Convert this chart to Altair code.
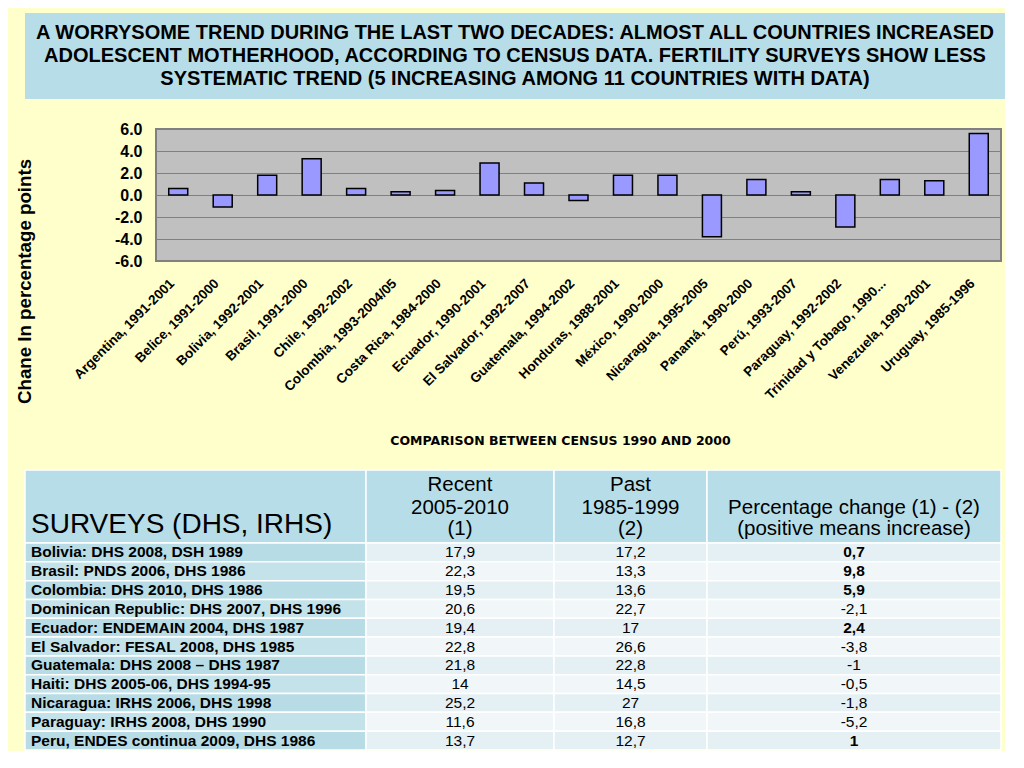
import altair as alt
import pandas as pd

# ---------------- data ----------------
TITLE_LINES = [
    "A WORRYSOME TREND DURING THE LAST TWO DECADES: ALMOST ALL COUNTRIES INCREASED",
    "ADOLESCENT MOTHERHOOD, ACCORDING TO CENSUS DATA. FERTILITY SURVEYS SHOW LESS",
    "SYSTEMATIC TREND (5 INCREASING AMONG 11 COUNTRIES WITH DATA)",
]

CENSUS_COUNTRIES = [
    "Argentina, 1991-2001", "Belice, 1991-2000", "Bolivia, 1992-2001",
    "Brasil, 1991-2000", "Chile, 1992-2002", "Colombia, 1993-2004/05",
    "Costa Rica, 1984-2000", "Ecuador, 1990-2001", "El Salvador, 1992-2007",
    "Guatemala, 1994-2002", "Honduras, 1988-2001", "México, 1990-2000",
    "Nicaragua, 1995-2005", "Panamá, 1990-2000", "Perú, 1993-2007",
    "Paraguay, 1992-2002", "Trinidad y Tobago, 1990...", "Venezuela, 1990-2001",
    "Uruguay, 1985-1996",
]
CENSUS_CHANGE = [0.6, -1.1, 1.8, 3.3, 0.6, 0.3, 0.4, 2.9, 1.1, -0.5,
                 1.8, 1.8, -3.8, 1.4, 0.3, -2.9, 1.4, 1.3, 5.6]
Y_TICKS = [-6, -4, -2, 0, 2, 4, 6]
Y_TITLE = "Chane In percentage points"
X_TITLE = "COMPARISON BETWEEN CENSUS 1990 AND 2000"

TABLE_TITLE = "SURVEYS (DHS, IRHS)"
COL_HEADERS = [
    ["Recent", "2005-2010", "(1)"],
    ["Past", "1985-1999", "(2)"],
    ["", "Percentage change (1) - (2)", "(positive means increase)"],
]
SURVEYS = [
    "Bolivia: DHS 2008, DSH 1989",
    "Brasil: PNDS 2006, DHS 1986",
    "Colombia: DHS 2010, DHS 1986",
    "Dominican Republic: DHS 2007, DHS 1996",
    "Ecuador: ENDEMAIN 2004, DHS 1987",
    "El Salvador: FESAL 2008, DHS 1985",
    "Guatemala: DHS 2008 \u2013 DHS 1987",
    "Haiti: DHS 2005-06, DHS 1994-95",
    "Nicaragua: IRHS 2006, DHS 1998",
    "Paraguay: IRHS 2008, DHS 1990",
    "Peru, ENDES continua 2009, DHS 1986",
]
RECENT = [17.9, 22.3, 19.5, 20.6, 19.4, 22.8, 21.8, 14, 25.2, 11.6, 13.7]
PAST = [17.2, 13.3, 13.6, 22.7, 17, 26.6, 22.8, 14.5, 27, 16.8, 12.7]
PCT_CHANGE = [0.7, 9.8, 5.9, -2.1, 2.4, -3.8, -1, -0.5, -1.8, -5.2, 1]

# ---------------- layout / style ----------------
BG = "#FFFFCC"
BOX = "#B7DEE8"
FONT = "Liberation Sans"
PLOT_W, PLOT_H = 845, 132
BOX_LEFT, BOX_RIGHT = -131, 849      # title box relative to the plot's left edge
TITLE_H = 86
TABLE_H = 280
TABLE_OFFSET = 131                   # table starts this far left of the plot
COL_EDGES = [0, 341, 529, 682, 976]
HEAD_H = 73
HEAD_LINE_Y = [15, 38, 59]
ROW_H = (TABLE_H - HEAD_H) / len(SURVEYS)


def fmt(v):
    return f"{v:g}".replace(".", ",")


# ---------------- title box ----------------
title_df = pd.DataFrame({"i": list(range(len(TITLE_LINES))), "line": TITLE_LINES})
title_box = alt.Chart(pd.DataFrame({"k": [0]})).mark_rect(color=BOX).encode(
    x=alt.value(BOX_LEFT), x2=alt.value(BOX_RIGHT), y=alt.value(0), y2=alt.value(TITLE_H)
)
title_text = alt.Chart(title_df).mark_text(
    font=FONT, fontSize=20, fontWeight="bold", color="black", align="center", baseline="middle"
).encode(
    x=alt.value((BOX_LEFT + BOX_RIGHT) / 2),
    y=alt.Y("i:O", axis=None, scale=alt.Scale(padding=0.85)),
    text="line:N",
)
title_chart = alt.layer(title_box, title_text).properties(width=PLOT_W, height=TITLE_H)

# ---------------- bar chart ----------------
bar_df = pd.DataFrame({"country": CENSUS_COUNTRIES, "change": CENSUS_CHANGE})
bar_chart = alt.Chart(bar_df).mark_bar(
    size=19, fill="#9999FF", stroke="#000000", strokeWidth=1.5
).encode(
    x=alt.X(
        "country:N", sort=None,
        scale=alt.Scale(paddingInner=0, paddingOuter=0),
        axis=alt.Axis(
            title=X_TITLE, labelAngle=315, labelAlign="right", labelBaseline="middle",
            labelFont=FONT, labelFontSize=13.5, labelFontWeight="bold", labelColor="black",
            labelPadding=20, labelOffset=-6, labelOverlap=False, labelLimit=300,
            ticks=False, domain=False,
            titleFont="DejaVu Sans", titleFontSize=12.5, titleFontWeight="bold", titleColor="black",
            titleX=404, titleY=179, titleAlign="center", titleBaseline="middle",
        ),
    ),
    y=alt.Y(
        "change:Q",
        scale=alt.Scale(domain=[-6, 6], nice=False),
        axis=alt.Axis(
            values=Y_TICKS,
            labelExpr="datum.value < 0 ? '-' + format(-datum.value, '.1f') : format(datum.value, '.1f')",
            labelFont=FONT, labelFontSize=16, labelFontWeight="bold", labelColor="black",
            labelPadding=14, ticks=False, domain=False,
            grid=True, gridColor="#808080", gridWidth=1, gridOpacity=1,
            title=Y_TITLE, titleFont=FONT, titleFontSize=18.7, titleFontWeight="bold",
            titleColor="black", titleAngle=270, titleX=-132, titleY=152,
            titleAlign="center", titleBaseline="middle",
        ),
    ),
).properties(
    width=PLOT_W, height=PLOT_H,
    view=alt.ViewBackground(fill="#C0C0C0", stroke="#808080", strokeWidth=2),
)

# ---------------- table ----------------
cells, texts = [], []
for c in range(4):
    cells.append(dict(x=COL_EDGES[c], x2=COL_EDGES[c + 1], y=0, y2=HEAD_H, fill=BOX))
texts.append(dict(kind="big", x=COL_EDGES[0] + 6, y=55, text=TABLE_TITLE))
for c, lines in enumerate(COL_HEADERS):
    cx = (COL_EDGES[c + 1] + COL_EDGES[c + 2]) / 2
    for j, t in enumerate(lines):
        if t:
            texts.append(dict(kind="head", x=cx, y=HEAD_LINE_Y[j], text=t))
for r, name in enumerate(SURVEYS):
    y0 = HEAD_H + r * ROW_H
    for c in range(4):
        if c == 0:
            fill = "#B7DCE5" if r % 2 == 0 else "#C4E2E9"
        else:
            fill = "#E4F0F4" if r % 2 == 0 else "#F1F7F9"
        cells.append(dict(x=COL_EDGES[c], x2=COL_EDGES[c + 1], y=y0, y2=y0 + ROW_H, fill=fill))
    yc = y0 + ROW_H / 2
    texts.append(dict(kind="label", x=COL_EDGES[0] + 6, y=yc, text=name))
    texts.append(dict(kind="num", x=(COL_EDGES[1] + COL_EDGES[2]) / 2, y=yc, text=fmt(RECENT[r])))
    texts.append(dict(kind="num", x=(COL_EDGES[2] + COL_EDGES[3]) / 2, y=yc, text=fmt(PAST[r])))
    texts.append(dict(kind="numb" if PCT_CHANGE[r] > 0 else "num",
                      x=(COL_EDGES[3] + COL_EDGES[4]) / 2, y=yc, text=fmt(PCT_CHANGE[r])))

cells_df = pd.DataFrame(cells)
texts_df = pd.DataFrame(texts)

xs = alt.Scale(domain=[TABLE_OFFSET, TABLE_OFFSET + PLOT_W], nice=False, zero=False)
ys = alt.Scale(domain=[0, TABLE_H], nice=False, zero=False, reverse=True)

cell_layer = alt.Chart(cells_df).mark_rect(stroke="white", strokeWidth=1.5).encode(
    x=alt.X("x:Q", scale=xs, axis=None), x2="x2:Q",
    y=alt.Y("y:Q", scale=ys, axis=None), y2="y2:Q",
    color=alt.Color("fill:N", scale=None),
)


def text_layer(kind, **kw):
    return alt.Chart(texts_df).transform_filter(alt.datum.kind == kind).mark_text(
        font=FONT, color="black", baseline="middle", **kw
    ).encode(
        x=alt.X("x:Q", scale=xs, axis=None),
        y=alt.Y("y:Q", scale=ys, axis=None),
        text="text:N",
    )


table_chart = alt.layer(
    cell_layer,
    text_layer("big", fontSize=28, align="left"),
    text_layer("head", fontSize=20.5, align="center"),
    text_layer("label", fontSize=15.5, fontWeight="bold", align="left"),
    text_layer("num", fontSize=15.5, align="center"),
    text_layer("numb", fontSize=15.5, fontWeight="bold", align="center"),
).properties(width=PLOT_W, height=TABLE_H)

chart = alt.vconcat(
    title_chart, bar_chart, table_chart, spacing=21
).properties(
    background=BG, padding={"left": 6, "top": 5, "right": 0, "bottom": 0}
).configure_view(stroke=None)

chart.save("out.html", embed_options={"renderer": "svg", "actions": False})
